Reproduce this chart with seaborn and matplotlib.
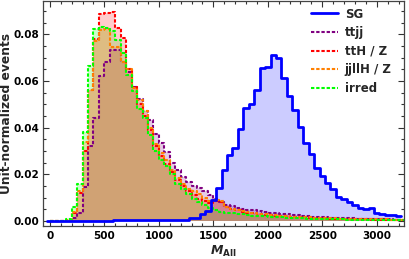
import numpy as np
import pandas as pd
import matplotlib
matplotlib.use("Agg")
import matplotlib.pyplot as plt
import seaborn as sns
from matplotlib.lines import Line2D
from matplotlib.ticker import MultipleLocator, FormatStrFormatter

# ---------------- data ----------------
bg_edges = list(range(0, 3251, 50))
bg_centers = [e + 25 for e in bg_edges[:-1]]
sg_edges = list(range(-25, 3226, 50))
sg_centers = list(range(0, 3201, 50))

sg = [0.0001] * 12 + [0.0002] * 12 + [
    0.0004, 0.0005, 0.0011, 0.0013, 0.0030, 0.0044, 0.0090, 0.0143, 0.0218, 0.0283,
    0.0311, 0.0393, 0.0483, 0.0500, 0.0561, 0.0654, 0.0661, 0.0711, 0.0697, 0.0611,
    0.0535, 0.0475, 0.0404, 0.0333, 0.0285, 0.0228, 0.0193, 0.0161, 0.0136, 0.0104,
    0.0094, 0.0083, 0.0069, 0.0057, 0.0050, 0.0054, 0.0033, 0.0030, 0.0026, 0.0024,
    0.0022]

ttjj = [0, 0, 0, 0.0003, 0.0011, 0.0033, 0.0144, 0.0320, 0.0440, 0.0620,
        0.0680, 0.0732, 0.0732, 0.0680, 0.0636, 0.0572, 0.0523, 0.0473, 0.0433, 0.0371,
        0.0334, 0.0295, 0.0246, 0.0220, 0.0189, 0.0168, 0.0150, 0.0140, 0.0128, 0.0112,
        0.0095, 0.0083, 0.0070,
        0.0063, 0.0057, 0.0052, 0.0048, 0.0045, 0.0042, 0.0038, 0.0036, 0.0033, 0.0031,
        0.0028, 0.0026, 0.0024, 0.0021, 0.0019, 0.0018, 0.0016, 0.0015, 0.0014, 0.0013,
        0.0012, 0.0011, 0.0011, 0.0010, 0.0009, 0.0009, 0.0008, 0.0008, 0.0007, 0.0007,
        0.0006, 0.0006]

ttHZ = [0, 0, 0, 0.0003, 0.0035, 0.0120, 0.0300, 0.0560, 0.0780, 0.0885,
        0.0890, 0.0895, 0.0826, 0.0783, 0.0651, 0.0575, 0.0500, 0.0450, 0.0390, 0.0320,
        0.0280, 0.0245, 0.0210, 0.0175, 0.0150, 0.0128, 0.0110, 0.0095, 0.0085, 0.0075,
        0.0085, 0.0082, 0.0058,
        0.0050, 0.0045, 0.0040, 0.0036, 0.0033, 0.0030, 0.0027, 0.0025, 0.0023, 0.0021,
        0.0019, 0.0017, 0.0016, 0.0015, 0.0014, 0.0013, 0.0012, 0.0011, 0.0010, 0.0010,
        0.0009, 0.0009, 0.0008, 0.0008, 0.0007, 0.0007, 0.0006, 0.0006, 0.0006, 0.0005,
        0.0005, 0.0005]

jjllHZ = [0, 0, 0, 0.0003, 0.0040, 0.0128, 0.0338, 0.0560, 0.0771, 0.0817,
          0.0821, 0.0743, 0.0743, 0.0680, 0.0650, 0.0570, 0.0520, 0.0470, 0.0400, 0.0330,
          0.0290, 0.0260, 0.0220, 0.0185, 0.0160, 0.0135, 0.0130, 0.0115, 0.0100, 0.0085,
          0.0090, 0.0085, 0.0060,
          0.0052, 0.0046, 0.0042, 0.0038, 0.0034, 0.0031, 0.0028, 0.0026, 0.0024, 0.0022,
          0.0020, 0.0018, 0.0017, 0.0016, 0.0015, 0.0014, 0.0013, 0.0012, 0.0011, 0.0011,
          0.0010, 0.0010, 0.0009, 0.0009, 0.0008, 0.0008, 0.0007, 0.0007, 0.0007, 0.0006,
          0.0006, 0.0006]

irred = [0, 0, 0, 0.0007, 0.0061, 0.0160, 0.0380, 0.0665, 0.0821, 0.0831,
         0.0825, 0.0814, 0.0774, 0.0720, 0.0626, 0.0558, 0.0480, 0.0440, 0.0370, 0.0300,
         0.0260, 0.0235, 0.0200, 0.0160, 0.0135, 0.0115, 0.0095, 0.0080, 0.0068, 0.0055,
         0.0048, 0.0040, 0.0036,
         0.0033, 0.0030, 0.0028, 0.0025, 0.0023, 0.0021, 0.0019, 0.0018, 0.0016, 0.0015,
         0.0014, 0.0013, 0.0012, 0.0011, 0.0010, 0.0010, 0.0009, 0.0008, 0.0008, 0.0007,
         0.0007, 0.0006, 0.0006, 0.0005, 0.0005, 0.0005, 0.0004, 0.0004, 0.0004, 0.0003,
         0.0003, 0.0003]

labels = ["SG", "ttjj", "ttH / Z", "jjllH / Z", "irred"]
colors = ["#0000ff", "#800080", "#ff0000", "#ff8000", "#00ff00"]

# ---------------- style ----------------
sns.set_style("ticks")
plt.rcParams["font.family"] = ["DejaVu Sans"]
plt.rcParams["font.weight"] = "bold"
plt.rcParams["mathtext.fontset"] = "custom"
plt.rcParams["mathtext.it"] = "DejaVu Sans:italic:bold"
plt.rcParams["mathtext.rm"] = "DejaVu Sans:bold"

fig = plt.figure(figsize=(4.09, 2.59), dpi=100)
ax = fig.add_axes([0.105, 0.129, 0.883, 0.867])

dash = (0, (1.6, 0.9))
series = {
    "SG": (sg_centers, sg, sg_edges, colors[0], "-", 2.0),
    "ttjj": (bg_centers, ttjj, bg_edges, colors[1], dash, 1.5),
    "ttHZ": (bg_centers, ttHZ, bg_edges, colors[2], dash, 1.5),
    "jjllHZ": (bg_centers, jjllHZ, bg_edges, colors[3], dash, 1.5),
    "irred": (bg_centers, irred, bg_edges, colors[4], dash, 1.5),
}
# translucent fills (order chosen to give the tan overlap colour)
for key in ["SG", "ttjj", "irred", "ttHZ", "jjllHZ"]:
    x, w, edges, c, ls, lw = series[key]
    df = pd.DataFrame({"m": x, "w": w})
    sns.histplot(data=df, x="m", weights="w", bins=edges, element="step", fill=True,
                 color=c, alpha=0.2, linewidth=0, ax=ax)
# outlines
for key in ["ttjj", "ttHZ", "jjllHZ", "irred", "SG"]:
    x, w, edges, c, ls, lw = series[key]
    df = pd.DataFrame({"m": x, "w": w})
    sns.histplot(data=df, x="m", weights="w", bins=edges, element="step", fill=False,
                 color=c, linewidth=lw, linestyle=ls, ax=ax)

ax.set_xlim(-64, 3251)
ax.set_ylim(-0.002, 0.0942)
ax.xaxis.set_major_locator(MultipleLocator(500))
ax.xaxis.set_minor_locator(MultipleLocator(100))
ax.yaxis.set_major_locator(MultipleLocator(0.02))
ax.yaxis.set_minor_locator(MultipleLocator(0.005))
ax.yaxis.set_major_formatter(FormatStrFormatter("%.2f"))
ax.tick_params(which="both", direction="in", top=True, right=True,
               labelsize=7.5, colors="#333333", labelcolor="black", width=0.8)
ax.tick_params(axis="y", pad=2.5)
ax.tick_params(axis="x", pad=4)
ax.tick_params(which="major", length=4)
ax.tick_params(which="minor", length=2)
for s in ax.spines.values():
    s.set_color("#444444")
    s.set_linewidth(0.9)

ax.set_ylabel("Unit-normalized events", fontsize=8.8, fontweight="bold", labelpad=0.5)
ax.set_xlabel(r"$M_{\mathrm{All}}$", fontsize=9, labelpad=2)

handles = [Line2D([], [], color=c, linewidth=(2.0 if i == 0 else 1.5),
                  linestyle=("-" if i == 0 else dash))
           for i, c in enumerate(colors)]
ax.legend(handles, labels, loc="upper right", bbox_to_anchor=(0.995, 1.018),
          frameon=False, handlelength=2.3, handletextpad=0.6,
          labelspacing=0.47, prop={"weight": "bold", "size": 8.5})

fig.savefig("out.png", dpi=100)
